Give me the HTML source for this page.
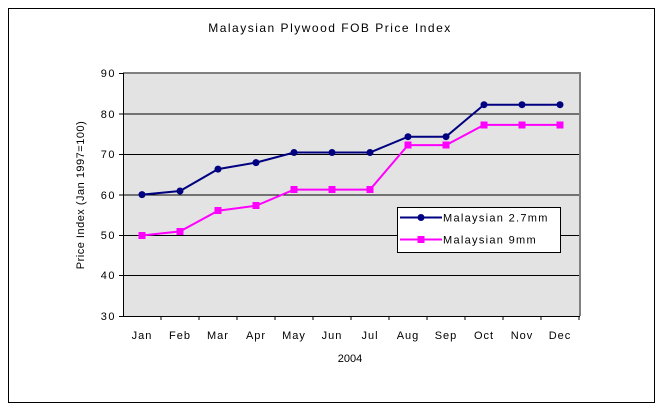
<!DOCTYPE html>
<html><head><style>body{margin:0;background:#fff}svg{display:block}text{font-family:"Liberation Sans",sans-serif;fill:#000}</style></head><body>
<svg width="660" height="413" xmlns="http://www.w3.org/2000/svg">
<rect x="8.5" y="8.5" width="646" height="394" fill="#fff" stroke="#000"/>
<text x="330" y="32" font-size="12" text-anchor="middle" letter-spacing="1.5">Malaysian Plywood FOB Price Index</text>
<rect x="123" y="73" width="456" height="243" fill="#e3e3e3"/>
<g stroke="#000" stroke-width="1">
<line x1="123" y1="114" x2="579" y2="114"/><line x1="123" y1="154.5" x2="579" y2="154.5"/><line x1="123" y1="195" x2="579" y2="195"/><line x1="123" y1="235.5" x2="579" y2="235.5"/><line x1="123" y1="275.5" x2="579" y2="275.5"/>
</g>
<line x1="123" y1="73" x2="580" y2="73" stroke="#808080" stroke-width="2"/>
<line x1="580" y1="72" x2="580" y2="316" stroke="#808080" stroke-width="2"/>
<line x1="123.5" y1="73" x2="123.5" y2="316" stroke="#000"/>
<line x1="119" y1="316.5" x2="580" y2="316.5" stroke="#000"/>
<g stroke="#000"><line x1="119" y1="73.5" x2="123" y2="73.5"/><line x1="119" y1="114" x2="123" y2="114"/><line x1="119" y1="154.5" x2="123" y2="154.5"/><line x1="119" y1="195" x2="123" y2="195"/><line x1="119" y1="235.5" x2="123" y2="235.5"/><line x1="119" y1="275.5" x2="123" y2="275.5"/>
<line x1="161" y1="316" x2="161" y2="320"/><line x1="199" y1="316" x2="199" y2="320"/><line x1="237" y1="316" x2="237" y2="320"/><line x1="275" y1="316" x2="275" y2="320"/><line x1="313" y1="316" x2="313" y2="320"/><line x1="351" y1="316" x2="351" y2="320"/><line x1="389" y1="316" x2="389" y2="320"/><line x1="427" y1="316" x2="427" y2="320"/><line x1="465" y1="316" x2="465" y2="320"/><line x1="503" y1="316" x2="503" y2="320"/><line x1="541" y1="316" x2="541" y2="320"/><line x1="579" y1="316" x2="579" y2="320"/></g>
<g font-size="11" text-anchor="end" letter-spacing="1.5"><text x="116" y="77">90</text><text x="116" y="118">80</text><text x="116" y="158">70</text><text x="116" y="199">60</text><text x="116" y="239">50</text><text x="116" y="279">40</text><text x="116" y="320">30</text></g>
<g font-size="11" text-anchor="middle" letter-spacing="1"><text x="142" y="339">Jan</text><text x="180" y="339">Feb</text><text x="218" y="339">Mar</text><text x="256" y="339">Apr</text><text x="294" y="339">May</text><text x="332" y="339">Jun</text><text x="370" y="339">Jul</text><text x="408" y="339">Aug</text><text x="446" y="339">Sep</text><text x="484" y="339">Oct</text><text x="522" y="339">Nov</text><text x="560" y="339">Dec</text></g>
<text x="350" y="362" font-size="11" text-anchor="middle">2004</text>
<text transform="translate(84,195) rotate(-90)" font-size="11" text-anchor="middle" letter-spacing="0.5">Price Index (Jan 1997=100)</text>
<polyline fill="none" stroke="#ff00ff" stroke-width="2" points="142,235.5 180,231.4 218,210.7 256,205.8 294,189.6 332,189.6 370,189.6 408,145.1 446,145.1 484,124.9 522,124.9 560,124.9"/>
<g fill="#ff00ff"><rect x="138.5" y="232" width="7" height="7"/><rect x="176.5" y="228" width="7" height="7"/><rect x="214.5" y="207" width="7" height="7"/><rect x="252.5" y="202" width="7" height="7"/><rect x="290.5" y="186" width="7" height="7"/><rect x="328.5" y="186" width="7" height="7"/><rect x="366.5" y="186" width="7" height="7"/><rect x="404.5" y="141.5" width="7" height="7"/><rect x="442.5" y="141.5" width="7" height="7"/><rect x="480.5" y="121.5" width="7" height="7"/><rect x="518.5" y="121.5" width="7" height="7"/><rect x="556.5" y="121.5" width="7" height="7"/></g>
<polyline fill="none" stroke="#000080" stroke-width="2" points="142,194.6 180,191 218,169.1 256,162.6 294,152.5 332,152.5 370,152.5 408,136.7 446,136.7 484,104.7 522,104.7 560,104.7"/>
<g fill="#000080"><circle cx="142" cy="194.6" r="3.5"/><circle cx="180" cy="191" r="3.5"/><circle cx="218" cy="169.1" r="3.5"/><circle cx="256" cy="162.6" r="3.5"/><circle cx="294" cy="152.5" r="3.5"/><circle cx="332" cy="152.5" r="3.5"/><circle cx="370" cy="152.5" r="3.5"/><circle cx="408" cy="136.7" r="3.5"/><circle cx="446" cy="136.7" r="3.5"/><circle cx="484" cy="104.7" r="3.5"/><circle cx="522" cy="104.7" r="3.5"/><circle cx="560" cy="104.7" r="3.5"/></g>
<rect x="397.5" y="207.5" width="163" height="45" fill="#fff" stroke="#000"/>
<line x1="400" y1="217.5" x2="442" y2="217.5" stroke="#000080" stroke-width="2"/><circle cx="421" cy="217.5" r="3.5" fill="#000080"/>
<line x1="400" y1="239.5" x2="442" y2="239.5" stroke="#ff00ff" stroke-width="2"/><rect x="417.5" y="236" width="7" height="7" fill="#ff00ff"/>
<g font-size="11" letter-spacing="1.3"><text x="443" y="221.5">Malaysian 2.7mm</text><text x="443" y="243.5">Malaysian 9mm</text></g>
</svg>
</body></html>
